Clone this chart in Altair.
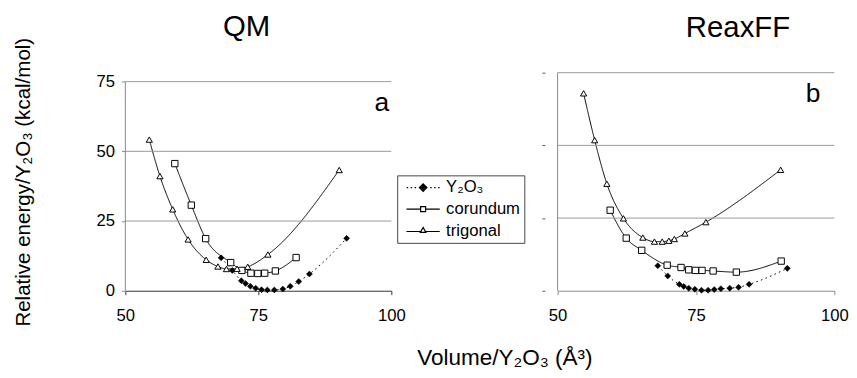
import altair as alt
import pandas as pd

FONT = "Liberation Sans"
SERIES = ["Y₂O₃", "corundum", "trigonal"]
GRID = [25, 50, 75]

# ---- QM panel (a) ----
qm_y2o3_vol = [68.0, 70.1, 71.8, 72.6, 73.5, 74.5, 75.6, 76.7, 78.0, 79.6, 81.0, 82.6, 84.6, 91.6]
qm_y2o3_e = [11.8, 7.3, 3.6, 2.6, 1.6, 0.9, 0.4, 0.3, 0.3, 0.6, 1.6, 3.3, 6.0, 18.8]
qm_cor_vol = [59.3, 62.4, 65.1, 69.8, 71.9, 73.6, 74.9, 76.2, 78.2, 82.1]
qm_cor_e = [45.6, 30.7, 18.7, 10.1, 7.3, 6.3, 6.2, 6.3, 7.1, 11.9]
qm_tri_vol = [54.5, 56.5, 58.9, 61.8, 65.2, 67.4, 69.0, 71.0, 73.0, 76.8, 90.2]
qm_tri_e = [54.2, 41.1, 29.2, 18.4, 11.1, 8.7, 7.8, 7.9, 8.6, 13.0, 43.3]

# ---- ReaxFF panel (b) ----
rx_y2o3_vol = [68.1, 69.9, 72.0, 72.8, 73.7, 74.8, 76.0, 77.2, 78.3, 79.5, 81.1, 82.7, 84.6, 91.5]
rx_y2o3_e = [8.6, 5.1, 2.2, 1.5, 0.9, 0.5, 0.2, 0.2, 0.4, 0.7, 0.9, 1.2, 2.2, 7.7]
rx_cor_vol = [59.5, 62.4, 65.2, 69.8, 72.3, 73.7, 74.9, 76.1, 78.1, 82.3, 90.4]
rx_cor_e = [27.7, 18.1, 13.9, 8.8, 8.0, 7.2, 7.0, 7.0, 6.8, 6.4, 10.2]
rx_tri_vol = [54.7, 56.7, 58.9, 61.9, 65.4, 67.5, 68.9, 70.1, 71.1, 73.0, 76.8, 90.3]
rx_tri_e = [67.9, 51.8, 36.8, 24.9, 18.3, 16.9, 16.9, 17.2, 17.8, 19.7, 23.6, 41.6]


def frame(triples):
    rows = []
    for name, vols, es in triples:
        for v, e in zip(vols, es):
            rows.append({"series": name, "vol": v, "e": e})
    return pd.DataFrame(rows)


qm_df = frame([(SERIES[0], qm_y2o3_vol, qm_y2o3_e), (SERIES[1], qm_cor_vol, qm_cor_e),
               (SERIES[2], qm_tri_vol, qm_tri_e)])
rx_df = frame([(SERIES[0], rx_y2o3_vol, rx_y2o3_e), (SERIES[1], rx_cor_vol, rx_cor_e),
               (SERIES[2], rx_tri_vol, rx_tri_e)])

# legend symbols: line segment + marker (custom paths, unit = 3 px)
LEG_PATHS = [
    "M-5.6,0L-5.1,0M-4.25,0L-3.75,0M-2.9,0L-2.4,0M2.4,0L2.9,0M3.75,0L4.25,0M5.1,0L5.6,0"
    "M-1.3,0L0,-1.3L1.3,0L0,1.3ZM-0.7,0L0,-0.7L0.7,0L0,0.7ZM-1.1,0L1.1,0M0,-1.1L0,1.1",
    "M-5.67,0L-0.85,0M0.85,0L5.67,0M-0.85,-0.85L0.85,-0.85L0.85,0.85L-0.85,0.85Z",
    "M-5.67,0.3L-0.8,0.3M0.8,0.3L5.67,0.3M-0.95,0.6L0,-1.1L0.95,0.6Z",
]


def panel(df, ymax, width, height, title, tdx, tofs, letter, lx, ly, left):
    xs = alt.Scale(domain=[50, 100], nice=False, zero=False)
    ys = alt.Scale(domain=[0, ymax], nice=False, zero=False)
    dcol = "#333" if left else "#888"
    xaxis = alt.Axis(values=[50, 75, 100], grid=False, domainColor=dcol, tickColor=dcol,
                     tickSize=4, labelFontSize=17, labelFont=FONT, labelColor="black",
                     labelPadding=13, title=None, labelFlush=False)
    if left:
        yaxis = alt.Axis(values=[0, 25, 50, 75], grid=False, domain=False, tickColor="#888",
                         tickSize=4, labelFontSize=17, labelFont=FONT, labelColor="black",
                         labelPadding=7, title="Relative energy/Y₂O₃ (kcal/mol)",
                         titleFont=FONT, titleFontSize=21, titleFontWeight="normal",
                         titleColor="black", titlePadding=64)
    else:
        yaxis = alt.Axis(values=[0, 25, 50, 75], grid=False, domain=False, tickColor="#555",
                         tickSize=3, labels=False, offset=13, title=None)

    def X(f):
        return alt.X(f, scale=xs, axis=xaxis)

    def Y(f):
        return alt.Y(f, scale=ys, axis=yaxis)

    gdf = pd.DataFrame({"g": GRID, "x0": [50] * 3, "x1": [100] * 3})
    grid = alt.Chart(gdf).mark_rule(color="#999", strokeWidth=1).encode(
        y=Y("g:Q"), x=X("x0:Q"), x2="x1:Q",
    )
    adf = pd.DataFrame({"x0": [50], "y0": [0], "y1": [75]})
    yline = alt.Chart(adf).mark_rule(color="#888", strokeWidth=1).encode(
        x=X("x0:Q"), y=Y("y0:Q"), y2="y1:Q",
    )
    lines = alt.Chart(df).mark_line(interpolate="monotone", color="black", strokeWidth=1).encode(
        x=X("vol:Q"), y=Y("e:Q"),
        strokeDash=alt.StrokeDash("series:N", scale=alt.Scale(domain=SERIES, range=[[1.6, 3.4], [1, 0], [1, 0]]),
                                  legend=None),
    )
    dia = alt.Chart(df).transform_filter(alt.datum.series == SERIES[0]).mark_point(
        shape="diamond", filled=True, fill="black", stroke="black", strokeWidth=0.5, size=38, opacity=1
    ).encode(x=X("vol:Q"), y=Y("e:Q"))
    sq = alt.Chart(df).transform_filter(alt.datum.series == SERIES[1]).mark_point(
        shape="square", filled=True, fill="white", stroke="black", strokeWidth=1, size=42, opacity=1
    ).encode(x=X("vol:Q"), y=Y("e:Q"))
    tri = alt.Chart(df).transform_filter(alt.datum.series == SERIES[2]).mark_point(
        shape="triangle-up", filled=True, fill="white", stroke="black", strokeWidth=1, size=40, opacity=1
    ).encode(x=X("vol:Q"), y=Y("e:Q"))
    ldf = pd.DataFrame({"vol": [lx], "e": [ly], "t": [letter]})
    lab = alt.Chart(ldf).mark_text(align="right", baseline="alphabetic", fontSize=27, font=FONT,
                                   color="black").encode(x=X("vol:Q"), y=Y("e:Q"), text="t:N")
    layers = [lines, grid, yline, dia, sq, tri, lab]
    if left:
        legdf = pd.DataFrame({"series": SERIES, "vol": [75, 75, 75], "e": [10, 10, 10]})
        leg = alt.Chart(legdf).mark_point(
            filled=False, stroke="black", strokeWidth=1.2, size=36, opacity=0
        ).encode(
            x=X("vol:Q"), y=Y("e:Q"),
            shape=alt.Shape("series:N", scale=alt.Scale(domain=SERIES, range=LEG_PATHS),
                            legend=alt.Legend(orient="none", legendX=278, legendY=105, title=None,
                                              labelFont=FONT, labelFontSize=17, labelColor="black",
                                              labelOffset=15, symbolOffset=14, symbolSize=36,
                                              symbolStrokeColor="black", symbolStrokeWidth=1.2,
                                              symbolFillColor="white", symbolOpacity=1,
                                              padding=4, strokeColor="#444", fillColor="white",
                                              rowPadding=4)),
        )
        layers.append(leg)
    return alt.layer(*layers).properties(
        width=width, height=height,
        title=alt.TitleParams(title, font=FONT, fontSize=30, fontWeight="normal", color="black",
                              anchor="middle", frame="group", dx=tdx, offset=tofs),
    )


left = panel(qm_df, 78.2, 272, 223, "QM", -12, -5, "a", 99.6, 64.5, True)
right = panel(rx_df, 75, 283, 223, "ReaxFF", 43, 30, "b", 97.5, 65.0, False)

chart = alt.hconcat(left, right, spacing=170, bounds="flush").resolve_scale(
    x="independent", y="independent", shape="independent"
).resolve_legend(shape="independent").properties(
    title=alt.TitleParams("Volume/Y₂O₃ (Å³)", orient="bottom", anchor="middle", font=FONT,
                          fontSize=23, fontWeight="normal", color="black", offset=22, dx=76),
    padding={"left": 5, "top": 0, "right": 0, "bottom": 0},
).configure_view(stroke=None)

chart.save("out.html", embed_options={"renderer": "svg", "actions": False})
